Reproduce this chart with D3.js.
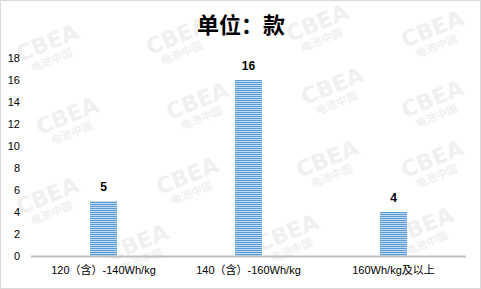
<!DOCTYPE html>
<html>
<head>
<meta charset="utf-8">
<script src="https://cdn.jsdelivr.net/npm/d3@7"></script>
<style>
  body { margin: 0; background: #fff; }
  svg { display: block; }
</style>
</head>
<body>
<div class="vis"></div>
<script>
const categories = ['120（含）-140Wh/kg', '140（含）-160Wh/kg', '160Wh/kg及以上']
const counts = [5, 16, 4]
const yTicks = [0, 2, 4, 6, 8, 10, 12, 14, 16, 18]
const title = '单位：款'

const w = 481
const h = 289

const svg = d3.select('.vis')
    .append('svg')
    .attr('width', w)
    .attr('height', h)

// 条纹填充
const pat = svg.append('defs').append('pattern')
    .attr('id', 'stripe')
    .attr('patternUnits', 'userSpaceOnUse')
    .attr('width', 4)
    .attr('height', 2)
pat.append('rect').attr('width', 4).attr('height', 2).attr('fill', '#c2daf0')
pat.append('rect').attr('width', 4).attr('height', 1).attr('fill', '#5b9bd5')

// 水印 (位置大致照原图)
const marks = [[20, 62], [150, 55], [290, 42], [405, 48],
               [40, 135], [170, 120], [305, 105], [405, 118],
               [20, 215], [160, 195], [300, 178], [405, 178],
               [110, 262], [260, 252], [395, 245]]
const wm = svg.append('g').attr('fill', '#f0f0f0')
marks.forEach(p => {
    const g = wm.append('g').attr('transform', 'translate(' + p[0] + ',' + p[1] + ') rotate(-22)')
    g.append('text')
        .attr('font-family', 'DejaVu Sans')
        .attr('font-weight', 'bold')
        .attr('font-size', 22)
        .text('CBEA')
    g.append('text')
        .attr('x', 8)
        .attr('y', 14)
        .attr('font-family', 'Noto Sans CJK SC')
        .attr('font-weight', 'bold')
        .attr('font-size', 11)
        .text('电池中国')
})

// 边框
svg.append('rect')
    .attr('x', 0.5).attr('y', 0.5)
    .attr('width', w - 1).attr('height', h - 1)
    .attr('fill', 'none')
    .attr('stroke', '#d9d9d9')

const xScale = d3.scaleBand()
    .domain(categories)
    .range([31, 466])
    .paddingInner(0.814)
    .paddingOuter(0.407)

const yScale = d3.scaleLinear()
    .domain([0, 18])
    .range([256, 58])

// y轴文字
svg.append('g')
    .selectAll('text')
    .data(yTicks)
    .enter().append('text')
    .attr('x', 20)
    .attr('y', d => yScale(d))
    .attr('dy', '0.35em')
    .attr('text-anchor', 'end')
    .attr('font-family', 'Liberation Sans, Noto Sans')
    .attr('font-size', 11)
    .attr('fill', '#000')
    .text(d => d)

// 柱子
svg.selectAll('.bar')
    .data(counts)
    .enter().append('rect')
    .attr('class', 'bar')
    .attr('x', (d, i) => xScale(categories[i]))
    .attr('width', xScale.bandwidth())
    .attr('y', d => yScale(d))
    .attr('height', d => yScale(0) - yScale(d))
    .attr('fill', 'url(#stripe)')

// 数值标签
svg.selectAll('.lbl')
    .data(counts)
    .enter().append('text')
    .attr('class', 'lbl')
    .attr('x', (d, i) => xScale(categories[i]) + xScale.bandwidth() / 2)
    .attr('y', d => yScale(d) - 10)
    .attr('text-anchor', 'middle')
    .attr('font-family', 'Liberation Sans, Noto Sans')
    .attr('font-weight', 'bold')
    .attr('font-size', 12)
    .text(d => d)

// x轴
svg.append('line')
    .attr('x1', 31).attr('x2', 466)
    .attr('y1', yScale(0) + 0.5).attr('y2', yScale(0) + 0.5)
    .attr('stroke', '#bfbfbf')
    .attr('stroke-width', 2)

svg.append('g')
    .selectAll('text')
    .data(categories)
    .enter().append('text')
    .attr('x', d => xScale(d) + xScale.bandwidth() / 2)
    .attr('y', 274)
    .attr('text-anchor', 'middle')
    .attr('font-family', 'Liberation Sans, Noto Sans CJK SC')
    .attr('font-size', 11)
    .text(d => d)

// 标题
svg.append('text')
    .attr('x', 241)
    .attr('y', 33)
    .attr('text-anchor', 'middle')
    .attr('font-family', 'Noto Sans CJK SC')
    .attr('font-weight', 'bold')
    .attr('font-size', 22)
    .text(title)
</script>
</body>
</html>
